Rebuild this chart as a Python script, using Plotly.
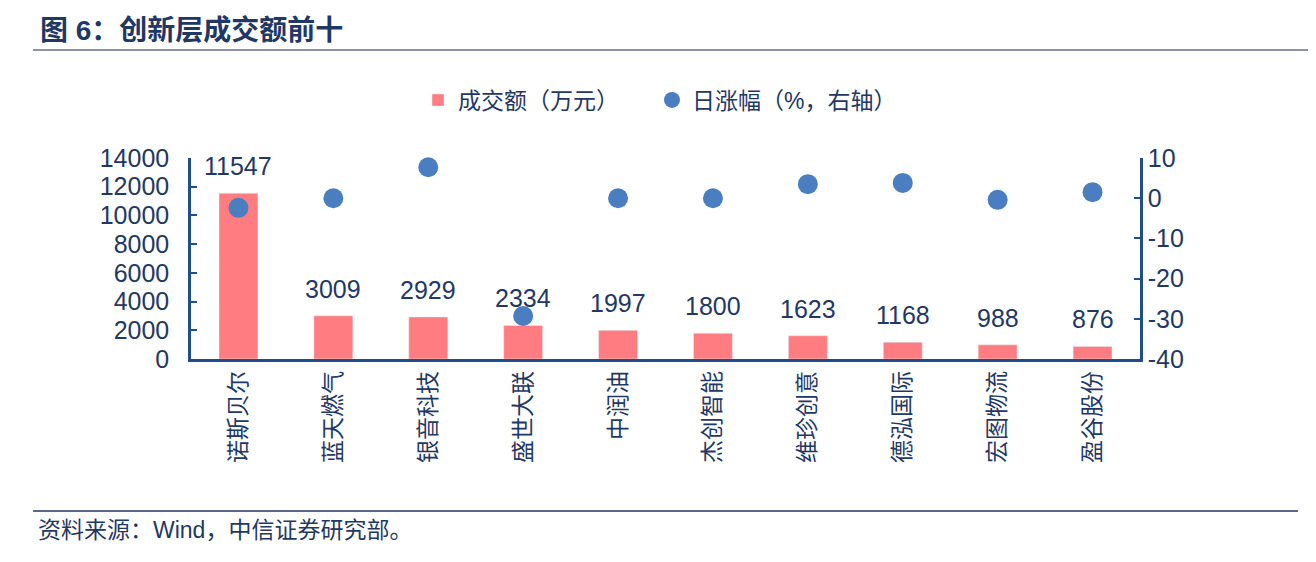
import plotly.graph_objects as go

categories = ["诺斯贝尔", "蓝天燃气", "银音科技", "盛世大联", "中润油", "杰创智能", "维珍创意", "德泓国际", "宏图物流", "盈谷股份"]
turnover = [11547, 3009, 2929, 2334, 1997, 1800, 1623, 1168, 988, 876]
daily_change = [-2.4, 0.0, 7.7, -29.3, 0.0, 0.0, 3.5, 3.8, -0.4, 1.5]
left_ticks = [0, 2000, 4000, 6000, 8000, 10000, 12000, 14000]
right_ticks = [-40, -30, -20, -10, 0, 10]

FONT = "Arial, Liberation Sans, Noto Sans CJK SC, sans-serif"
NAVY = "#1F3864"
AXIS = "#1F4E8C"

W, H = 1316, 562
OFF = 8  # page body margin
L, R, T, B = 191 - OFF, 176 + OFF, 158 - OFF, 203 + OFF
PW, PH = W - L - R, H - T - B


def px(xp):
    return (xp - OFF - L) / PW


def py(yp):
    return (H - (yp - OFF) - B) / PH


fig = go.Figure()
fig.add_trace(go.Bar(
    x=categories, y=turnover, name="成交额（万元）",
    marker_color="#FF7C80", width=0.41, legend="legend",
))
fig.add_trace(go.Scatter(
    x=categories, y=daily_change, name="日涨幅（%，右轴）", yaxis="y2",
    mode="markers", marker=dict(size=20, color="#4A7EC1"),
    cliponaxis=False, legend="legend2",
))

for c, v in zip(categories, turnover):
    fig.add_annotation(x=c, y=v, xref="x", yref="y", text=str(v), showarrow=False,
                       yanchor="middle", yshift=27,
                       font=dict(size=25, color=NAVY, family=FONT))

legend_common = dict(orientation="h", xanchor="left", xref="container",
                     yanchor="middle", yref="container",
                     font=dict(size=23, color=NAVY, family=FONT), itemwidth=30)

fig.update_layout(
    width=W, height=H,
    paper_bgcolor="white", plot_bgcolor="white",
    margin=dict(l=L, r=R, t=T, b=B, autoexpand=False),
    font=dict(family=FONT, color=NAVY),
    showlegend=True,
    legend=dict(x=(418 - OFF) / W, y=1 - (100 - OFF) / H, **legend_common),
    legend2=dict(x=(652 - OFF) / W, y=1 - (100 - OFF) / H, **legend_common),
    xaxis=dict(
        type="category", range=[-0.5, len(categories) - 0.5],
        showline=True, linecolor=AXIS, linewidth=2.5, ticks="", tickangle=-90,
        tickfont=dict(size=23, color=NAVY, family=FONT), showgrid=False,
        automargin=False,
    ),
    yaxis=dict(
        range=[0, 14000], tickvals=left_ticks, ticktext=[str(t) for t in left_ticks],
        showline=True, linecolor=AXIS, linewidth=2.5,
        ticks="inside", ticklen=6, tickcolor=AXIS, tickwidth=2, showgrid=False,
        tickfont=dict(size=25, color=NAVY, family=FONT), zeroline=False,
        automargin=False, ticklabelstandoff=14,
    ),
    yaxis2=dict(
        range=[-40, 10], tickvals=right_ticks, ticktext=[str(t) for t in right_ticks],
        overlaying="y", side="right", showline=True,
        linecolor=AXIS, linewidth=2.5, ticks="inside", ticklen=6, tickcolor=AXIS,
        tickwidth=2, showgrid=False, zeroline=False,
        tickfont=dict(size=25, color=NAVY, family=FONT), automargin=False,
    ),
)

fig.add_annotation(text="<b>图 6：创新层成交额前十</b>", xref="paper", yref="paper",
                   x=px(38), y=py(30), xanchor="left", yanchor="middle",
                   showarrow=False, font=dict(size=28, color=NAVY, family=FONT))
fig.add_annotation(text="资料来源：Wind，中信证券研究部。", xref="paper", yref="paper",
                   x=px(36), y=py(530), xanchor="left", yanchor="middle",
                   showarrow=False, font=dict(size=23, color=NAVY, family=FONT))

fig.add_shape(type="line", xref="paper", yref="paper",
              x0=px(33), x1=px(1316), y0=py(50), y1=py(50),
              line=dict(color="#8A94A6", width=2))
fig.add_shape(type="line", xref="paper", yref="paper",
              x0=px(33), x1=px(1298), y0=py(511), y1=py(511),
              line=dict(color="#1F3864", width=1.5))

fig.write_html("out.html")
